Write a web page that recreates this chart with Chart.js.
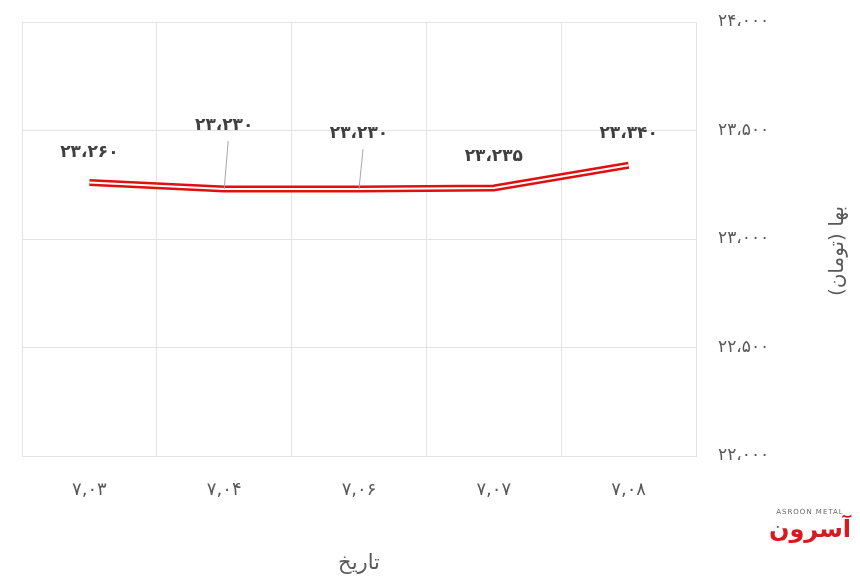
<!DOCTYPE html>
<html>
<head>
<meta charset="utf-8">
<script src="https://cdn.jsdelivr.net/npm/chart.js"></script>
<style>
  html, body { margin: 0; padding: 0; background: #fff; }
  #wrap { position: relative; width: 860px; height: 586px; }
  #logo { position: absolute; left: 768px; top: 508px; width: 84px; text-align: center; font-family: 'DejaVu Sans', sans-serif; }
  #logo .en { font-size: 7px; color: #666; letter-spacing: 1px; }
  #logo .fa { font-size: 24px; font-weight: bold; color: #d71920; line-height: 26px; }
</style>
</head>
<body>
<div id="wrap">
  <canvas id="chart" width="860" height="586"></canvas>
  <div id="logo"><div class="en">ASROON METAL</div><div class="fa">آسرون</div></div>
</div>
<script>
// chart data
const categories = ['۷,۰۳', '۷,۰۴', '۷,۰۶', '۷,۰۷', '۷,۰۸'];
const prices = [23260, 23230, 23230, 23235, 23340];
const yTicks = [22000, 22500, 23000, 23500, 24000];
const yTitle = 'بها (تومان)';

// label offsets (px above the point), leader line on some of them
const labelOffsets = [-30, -64, -56, -31, -32];
const leaders = [false, true, true, false, false];

function faNum(n) {
    const s = Math.round(n).toString().replace(/\B(?=(\d{3})+(?!\d))/g, '،');
    return s.replace(/\d/g, d => '۰۱۲۳۴۵۶۷۸۹'[d]);
}

const labelPlugin = {
    id: 'priceLabels',
    afterDatasetsDraw(chart) {
        const ctx = chart.ctx;
        const meta = chart.getDatasetMeta(0);
        ctx.save();
        ctx.font = 'bold 17px "DejaVu Sans"';
        ctx.fillStyle = '#404040';
        ctx.textAlign = 'center';
        ctx.textBaseline = 'middle';
        meta.data.forEach((pt, i) => {
            const ly = pt.y + labelOffsets[i];
            ctx.fillText(faNum(prices[i]), pt.x, ly);
            if (leaders[i]) {
                ctx.strokeStyle = '#a6a6a6';
                ctx.lineWidth = 1;
                ctx.beginPath();
                ctx.moveTo(pt.x + 4, ly + 16);
                ctx.lineTo(pt.x, pt.y);
                ctx.stroke();
            }
        });
        ctx.restore();
    },
    // y title drawn rotated counter-clockwise like the original
    afterDraw(chart) {
        const ctx = chart.ctx;
        const area = chart.chartArea;
        ctx.save();
        ctx.translate(chart.width - 22, (area.top + area.bottom) / 2 + 12);
        ctx.rotate(-Math.PI / 2);
        ctx.font = '20px "DejaVu Sans"';
        ctx.fillStyle = '#595959';
        ctx.textAlign = 'center';
        ctx.textBaseline = 'middle';
        ctx.fillText(yTitle, 0, 0);
        ctx.restore();
    }
};

const gridColor = '#e3e3e3';

new Chart(document.getElementById('chart'), {
    type: 'line',
    data: {
        labels: categories,
        datasets: [
            {
                data: prices,
                borderColor: '#e01010',
                borderWidth: 7,
                pointRadius: 0,
                tension: 0,
                order: 2
            },
            {
                data: prices,
                borderColor: '#ffffff',
                borderWidth: 2,
                pointRadius: 0,
                tension: 0,
                order: 1
            }
        ]
    },
    options: {
        responsive: false,
        animation: false,
        layout: { padding: { left: 22, top: 22, right: 0, bottom: 0 } },
        plugins: {
            legend: { display: false },
            tooltip: { enabled: false }
        },
        scales: {
            x: {
                offset: true,
                grid: { offset: true, color: gridColor, drawTicks: false },
                border: { color: gridColor },
                ticks: {
                    color: '#595959',
                    font: { family: 'DejaVu Sans', size: 18 },
                    padding: 24
                },
                title: {
                    display: true,
                    text: 'تاریخ',
                    color: '#595959',
                    font: { family: 'DejaVu Sans', size: 21 },
                    padding: { top: 4, bottom: 10 }
                },
                afterFit(scale) { scale.height = 130; }
            },
            y: {
                position: 'right',
                min: 22000,
                max: 24000,
                afterBuildTicks(scale) { scale.ticks = yTicks.map(v => ({ value: v })); },
                grid: { color: gridColor, drawTicks: false },
                border: { color: gridColor },
                ticks: {
                    color: '#595959',
                    font: { family: 'DejaVu Sans', size: 17 },
                    padding: 22,
                    callback: v => faNum(v)
                },
                afterFit(scale) {
                    scale.width = 164;
                    scale.paddingTop = 0;
                    scale.paddingBottom = 0;
                }
            }
        }
    },
    plugins: [labelPlugin]
});
</script>
</body>
</html>
